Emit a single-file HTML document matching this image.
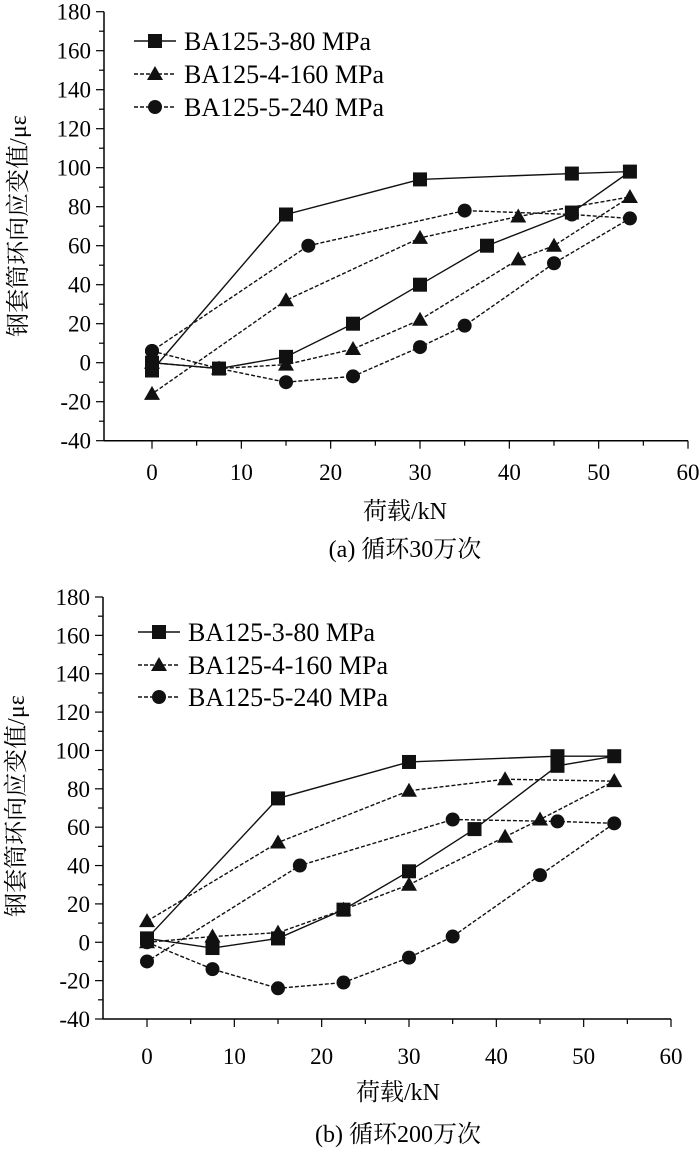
<!DOCTYPE html>
<html><head><meta charset="utf-8"><style>
html,body{margin:0;padding:0;background:#fff;width:700px;height:1152px;overflow:hidden}
svg text{font-family:"Liberation Serif","Noto Serif CJK SC","Noto Sans CJK SC",serif;fill:#000}
</style></head><body>
<svg id="chart" width="700" height="1152" viewBox="0 0 700 1152" xmlns="http://www.w3.org/2000/svg"></svg>
<script>
const xTicks = [0,10,20,30,40,50,60];
const yTicks = [-40,-20,0,20,40,60,80,100,120,140,160,180];
const seriesNames = ["BA125-3-80 MPa","BA125-4-160 MPa","BA125-5-240 MPa"];
// Panel (a)
const aS1x = [0,7.5,15,22.5,30,37.5,47,53.5,47,30,15,0];
const aS1y = [0,-3,3,20,40,60,77,98,97,94,76,-4];
const aS2x = [0,7.5,15,22.5,30,41,45,53.5,41,30,15,0];
const aS2y = [0,-3,-1,7,22,53,60,85,75,64,32,-16];
const aS3x = [0,7.5,15,22.5,30,35,45,53.5,47,35,17.5,0];
const aS3y = [6,-3,-10,-7,8,19,51,74,76,78,60,6];
// Panel (b)
const bS1x = [0,7.5,15,22.5,30,37.5,47,53.5,47,30,15,0];
const bS1y = [2,-3,2,17,37,59,92,97,97,94,75,2];
const bS2x = [0,7.5,15,22.5,30,41,45,53.5,41,30,15,0];
const bS2y = [0,3,5,17,30,55,64,84,85,79,52,11];
const bS3x = [0,7.5,15,22.5,30,35,45,53.5,47,35,17.5,0];
const bS3y = [0,-14,-24,-21,-8,3,35,62,63,64,40,-10];

const NS = "http://www.w3.org/2000/svg";
const svg = document.getElementById('chart');
function mk(tag, attrs, parent){const e=document.createElementNS(NS,tag);for(const k in attrs)e.setAttribute(k,attrs[k]);(parent||svg).appendChild(e);return e;}

function panel(cfg){
  const g = mk('g',{});
  
  
  const sx = v => cfg.x0 + (v - 0) * (cfg.x60 - cfg.x0) / 60;
  const sy = v => cfg.yb - (v + 40) * (cfg.yb - cfg.yt) / 220;
  const ya = mk('line',{x1:cfg.axL,y1:sy(180),x2:cfg.axL,y2:sy(-40),stroke:'#000','stroke-width':1.5},g);
  
  
  const xa = mk('line',{x1:cfg.axL,y1:sy(-40),x2:sx(60),y2:sy(-40),stroke:'#000','stroke-width':1.5},g);
  
  
  for(let v=-40; v<=180; v+=10){
    const major = v%20===0;
    mk('line',{x1:cfg.axL-(major?8:5),y1:sy(v),x2:cfg.axL,y2:sy(v),stroke:'#000','stroke-width':1.2},g);
  }
  yTicks.forEach(v=>{
    const t = mk('text',{x:cfg.axL-13,y:sy(v)+8,'text-anchor':'end','font-size':23},g);
    t.textContent = v;
    
    
  });
  for(let v=0; v<=60; v+=5){
    const major = v%10===0;
    mk('line',{x1:sx(v),y1:sy(-40),x2:sx(v),y2:sy(-40)+(major?8:5),stroke:'#000','stroke-width':1.2},g);
  }
  xTicks.forEach(v=>{
    const t = mk('text',{x:sx(v),y:cfg.xlab,'text-anchor':'middle','font-size':23},g);
    t.textContent = v;
    
    
  });
  const xt = mk('text',{x:cfg.titleX,y:cfg.xtitle,'text-anchor':'middle','font-size':24},g);
  xt.textContent = '荷载/kN';
  
  
  const cap = mk('text',{x:cfg.titleX,y:cfg.cap,'text-anchor':'middle','font-size':24},g);
  cap.textContent = cfg.caption;
  
  
  const yt = mk('text',{x:0,y:0,'text-anchor':'middle','font-size':24,transform:`translate(${cfg.ytX},${cfg.ytY}) rotate(-90)`},g);
  yt.textContent = '钢套筒环向应变值/με';
  
  

  const dash = [null,'4,2','4,2'];
  function marker(kind,x,y,parent){
    let m;
    if(kind===0) m = mk('rect',{x:x-7,y:y-7,width:14,height:14,fill:'#111'},parent);
    else if(kind===1) m = mk('polygon',{points:`${x},${y-8} ${x+8},${y+6} ${x-8},${y+6}`,fill:'#111'},parent);
    else m = mk('circle',{cx:x,cy:y,r:7,fill:'#111'},parent);
    return m;
  }
  cfg.series.forEach((s,i)=>{
    const sg = mk('g',{},g);
    
    
    const pts = s.x.map((xv,j)=>sx(xv)+','+sy(s.y[j])).join(' ');
    const pl = mk('polyline',{points:pts,fill:'none',stroke:'#111','stroke-width':1.4},sg);
    if(dash[i]) pl.setAttribute('stroke-dasharray',dash[i]);
    
    
    s.x.forEach((xv,j)=>{
      const m = marker(i,sx(xv),sy(s.y[j]),sg);
      
      
    });
  });
  seriesNames.forEach((n,i)=>{
    const y = cfg.legY[i];
    const lg = mk('g',{},g);
    
    
    const l = mk('line',{x1:cfg.legX,y1:y,x2:cfg.legX+42,y2:y,stroke:'#111','stroke-width':1.4},lg);
    if(dash[i]) l.setAttribute('stroke-dasharray','4,2');
    marker(i,cfg.legX+21,y,lg);
    const t = mk('text',{x:cfg.legX+50,y:y+9,'font-size':26},lg);
    t.textContent = n;
  });
}
panel({id:'a',x0:152,x60:688,axL:104,yt:11.7,yb:440.7,xlab:480,xtitle:519,cap:557,titleX:405,ytX:26,ytY:226,
  caption:'(a) 循环30万次',legX:134,legY:[41,74,107],
  series:[{x:aS1x,y:aS1y},{x:aS2x,y:aS2y},{x:aS3x,y:aS3y}]});
panel({id:'b',x0:147,x60:671,axL:103,yt:597,yb:1019,xlab:1064,xtitle:1100,cap:1142,titleX:398,ytX:24,ytY:806,
  caption:'(b) 循环200万次',legX:138,legY:[632,665,697],
  series:[{x:bS1x,y:bS1y},{x:bS2x,y:bS2y},{x:bS3x,y:bS3y}]});
</script>
</body></html>
